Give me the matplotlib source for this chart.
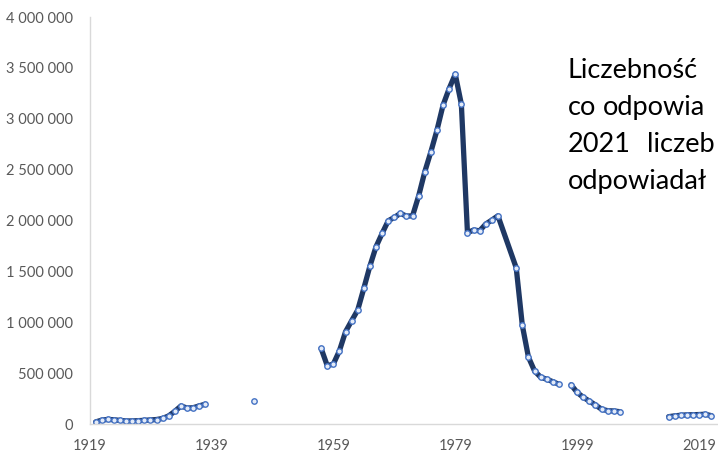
import numpy as np
import matplotlib.pyplot as plt
from matplotlib.ticker import FuncFormatter

nan = np.nan

# lata i liczebność (NaN = przerwa w danych)
years = (list(range(1920, 1940)) + [1946, 1947] + list(range(1957, 1987))
         + list(range(1989, 1998)) + list(range(1998, 2008)) + list(range(2014, 2022)))
values = [20000, 38000, 45000, 42000, 35000, 30000, 30000, 33000, 36000, 40000,
          44000, 55000, 80000, 125000, 177000, 157000, 160000, 178000, 195000, nan,
          226000, nan,
          743000, 573000, 589000, 720000, 907000, 1015000, 1120000, 1333000, 1552000, 1742000,
          1873000, 1997000, 2030000, 2070000, 2043000, 2046000, 2243000, 2479000, 2675000, 2888000,
          3134000, 3297000, 3438000, 3143000, 1880000, 1906000, 1899000, 1965000, 2004000, 2046000,
          1535000, 970000, 658000, 522000, 460000, 440000, 416000, 390000, nan,
          385000, 310000, 262000, 225000, 187000, 145000, 131000, 128000, 121000, nan,
          72000, 80000, 86000, 90000, 91000, 93000, 96000, 82000]

xticks = [1919, 1939, 1959, 1979, 1999, 2019]
yticks = [0, 500000, 1000000, 1500000, 2000000, 2500000, 3000000, 3500000, 4000000]

# widoczne fragmenty ramki tekstowej (ucięte przy prawej krawędzi)
text_words = [("Liczebność", 568, 78), ("co", 568, 115), ("odpowia", 603, 115),
              ("2021", 568, 152), ("liczeb", 647, 152), ("odpowiadał", 568, 189)]

plt.rcParams['font.family'] = ['Lato', 'DejaVu Sans']

fig = plt.figure(figsize=(7.18, 4.54), dpi=100)
ax = fig.add_axes([89.5 / 718, 30 / 454, 1 - 89.5 / 718, 407 / 454])

ax.plot(years, values, color='#1f3864', lw=3.8, solid_capstyle='round',
        marker='o', ms=3.9, mfc='#e4ebf7', mec='#4472c4', mew=1.0)

ax.set_xlim(1919, 2022.1)
ax.set_ylim(0, 4000000)
ax.set_xticks(xticks)
ax.set_yticks(yticks)
ax.yaxis.set_major_formatter(FuncFormatter(lambda v, p: f"{int(v):,}".replace(",", " ")))
ax.tick_params(length=0, labelsize=10.5, labelcolor='#595959')
ax.tick_params(axis='y', pad=12)
ax.tick_params(axis='x', pad=11)

for s in ['top', 'right']:
    ax.spines[s].set_visible(False)
for s in ['left', 'bottom']:
    ax.spines[s].set_color('#d9d9d9')
    ax.spines[s].set_linewidth(1)

for word, x, b in text_words:
    fig.text(x / 718, 1 - b / 454, word, fontsize=19.5, color='black', va='baseline', ha='left')

fig.savefig('out.png', dpi=100)
